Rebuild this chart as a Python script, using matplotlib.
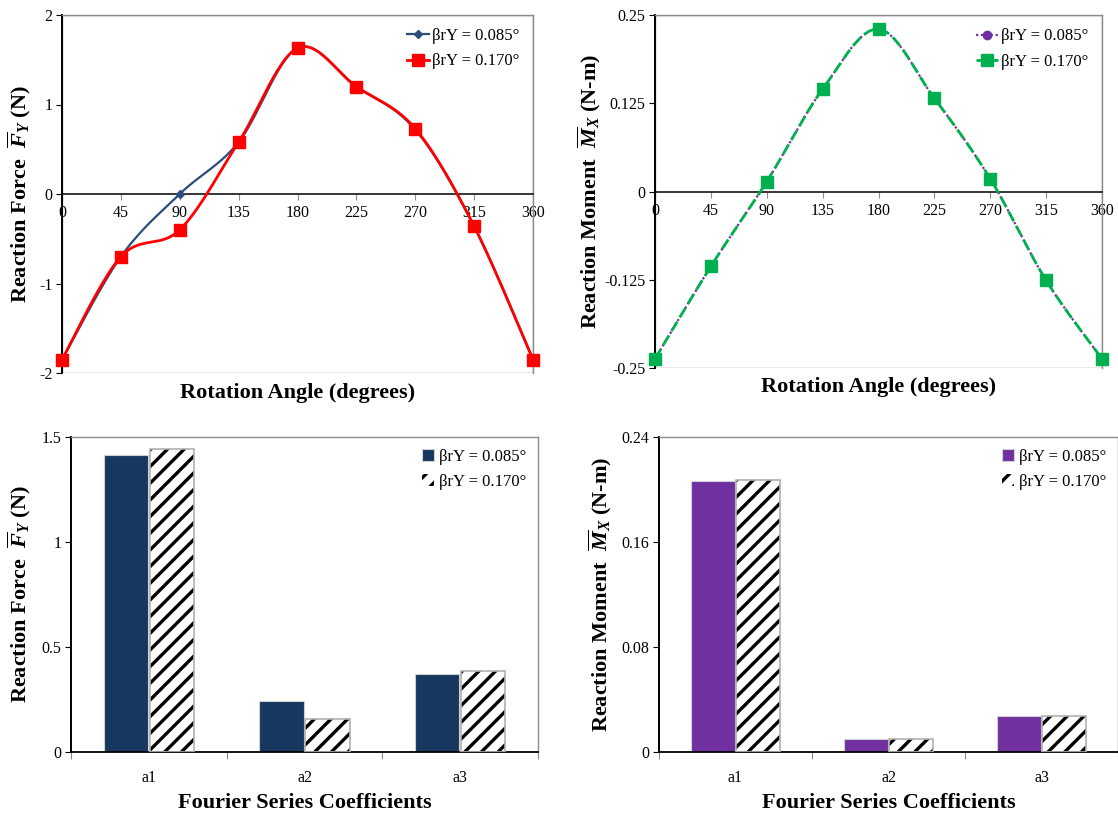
import numpy as np
import matplotlib
matplotlib.use("Agg")
import matplotlib.pyplot as plt
from matplotlib.patches import Rectangle

plt.rcParams["font.family"] = "Liberation Serif"
plt.rcParams["mathtext.fontset"] = "custom"
plt.rcParams["mathtext.rm"] = "Liberation Serif:bold"
plt.rcParams["mathtext.it"] = "Liberation Serif:italic:bold"
plt.rcParams["mathtext.bf"] = "Liberation Serif:bold"
plt.rcParams["hatch.linewidth"] = 2.4

# rotation angles (degrees)
angles = [0, 45, 90, 135, 180, 225, 270, 315, 360]

# reaction force Fy (N)
force_085 = [-1.85, -0.70, 0.00, 0.58, 1.63, 1.20, 0.72, -0.36, -1.85]
force_170 = [-1.85, -0.70, -0.40, 0.58, 1.63, 1.20, 0.73, -0.36, -1.85]

# reaction moment Mx (N-m)
moment_085 = [-0.237, -0.106, 0.014, 0.145, 0.230, 0.132, 0.018, -0.126, -0.237]
moment_170 = [-0.237, -0.106, 0.014, 0.145, 0.230, 0.132, 0.018, -0.126, -0.237]

# Fourier series coefficients
coeffs = ["a1", "a2", "a3"]
force_coef_085 = [1.413, 0.244, 0.370]
force_coef_170 = [1.443, 0.157, 0.387]
moment_coef_085 = [0.2067, 0.0099, 0.0272]
moment_coef_170 = [0.2072, 0.0099, 0.0277]

labels = ["βrY = 0.085°", "βrY = 0.170°"]

BORDER = "#8c8c8c"
TICK_FS = 11.5
LABEL_FS = 16
LEGEND_FS = 12


def smooth(x, y, steps=30):
    # Excel-style smoothed line: cubic Bezier through points (Catmull-Rom control points)
    x = np.asarray(x, float)
    y = np.asarray(y, float)
    px = np.concatenate([[x[0]], x, [x[-1]]])
    py = np.concatenate([[y[0]], y, [y[-1]]])
    xs, ys = [], []
    t = np.linspace(0, 1, steps)
    for i in range(1, len(px) - 2):
        p0 = np.array([px[i], py[i]])
        p3 = np.array([px[i + 1], py[i + 1]])
        c1 = p0 + (np.array([px[i + 1], py[i + 1]]) - np.array([px[i - 1], py[i - 1]])) / 6
        c2 = p3 - (np.array([px[i + 2], py[i + 2]]) - np.array([px[i], py[i]])) / 6
        b = ((1 - t) ** 3)[:, None] * p0 + (3 * (1 - t) ** 2 * t)[:, None] * c1 \
            + (3 * (1 - t) * t ** 2)[:, None] * c2 + (t ** 3)[:, None] * p3
        xs.extend(b[:, 0])
        ys.extend(b[:, 1])
    return np.array(xs), np.array(ys)


def style_line_axes(ax, ylim, yticks, yticklabels, ylabel):
    ax.set_xlim(0, 360)
    ax.set_ylim(*ylim)
    ax.set_xticks(angles)
    ax.set_yticks(yticks)
    ax.set_yticklabels(yticklabels)
    ax.spines["bottom"].set_position(("data", 0))
    ax.spines["bottom"].set_color("black")
    ax.spines["bottom"].set_linewidth(1.1)
    ax.spines["left"].set_color("black")
    ax.spines["left"].set_linewidth(1.4)
    for s in ["top", "right"]:
        ax.spines[s].set_color(BORDER)
        ax.spines[s].set_linewidth(1.0)
    ax.add_patch(Rectangle((0, 0), 1, 1, transform=ax.transAxes, fill=False,
                           edgecolor=BORDER, linewidth=1.0, zorder=0.5))
    ax.tick_params(axis="x", direction="out", length=4, width=0.8, pad=4,
                   labelsize=TICK_FS, color=BORDER)
    ax.tick_params(axis="y", direction="out", length=4, width=0.8, pad=3,
                   labelsize=TICK_FS)
    ax.text(0.5, -0.055, "Rotation Angle (degrees)", transform=ax.transAxes,
            ha="center", va="center", fontsize=LABEL_FS, fontweight="bold")
    ax.set_ylabel(ylabel, fontsize=LABEL_FS, fontweight="bold")


def style_bar_axes(ax, ymax, yticks, yticklabels, ylabel):
    ax.set_xlim(-0.5, 2.5)
    ax.set_ylim(0, ymax)
    ax.set_yticks(yticks)
    ax.set_yticklabels(yticklabels)
    ax.set_xticks([0, 1, 2])
    ax.set_xticklabels(coeffs)
    ax.set_xticks([-0.5, 0.5, 1.5, 2.5], minor=True)
    ax.tick_params(axis="x", which="major", length=0, pad=13, labelsize=TICK_FS)
    ax.tick_params(axis="x", which="minor", length=5, width=0.8, color=BORDER)
    ax.tick_params(axis="y", direction="out", length=4, width=0.8, pad=3,
                   labelsize=TICK_FS)
    ax.spines["bottom"].set_color("black")
    ax.spines["bottom"].set_linewidth(1.3)
    ax.spines["left"].set_color("black")
    ax.spines["left"].set_linewidth(1.4)
    for s in ["top", "right"]:
        ax.spines[s].set_color(BORDER)
        ax.spines[s].set_linewidth(1.0)
    ax.set_xlabel("Fourier Series Coefficients", fontsize=LABEL_FS,
                  fontweight="bold", labelpad=5)
    ax.set_ylabel(ylabel, fontsize=LABEL_FS, fontweight="bold")


def draw_bars(ax, v1, v2, color):
    x = np.arange(len(coeffs))
    w = 0.285
    ax.bar(x - w / 2 - 0.006, v1, w, color=color, edgecolor="#d0d0d0",
           linewidth=0.8, label=labels[0], zorder=2)
    ax.bar(x + w / 2 + 0.006, v2, w, facecolor="white", edgecolor="black",
           hatch="//", linewidth=0, label=labels[1], zorder=2)
    # light outline around the hatched bars
    ax.bar(x + w / 2 + 0.006, v2, w, fill=False, edgecolor="#b0b0b0",
           linewidth=1.2, zorder=3)


def add_legend(ax, bars=False):
    if bars:
        ax.legend(loc="upper right", frameon=False, fontsize=LEGEND_FS,
                  handlelength=0.7, handleheight=0.7, handletextpad=0.3,
                  borderaxespad=0.3, labelspacing=0.55)
    else:
        ax.legend(loc="upper right", frameon=False, fontsize=LEGEND_FS,
                  handlelength=1.3, handletextpad=0.2, borderaxespad=0.4,
                  labelspacing=0.55)


fig = plt.figure(figsize=(11.18, 8.15), dpi=100)

ax1 = fig.add_axes([62 / 1118, 1 - 373 / 815, 471 / 1118, 358 / 815])
ax2 = fig.add_axes([655 / 1118, 1 - 368 / 815, 447 / 1118, 353 / 815])
ax3 = fig.add_axes([71 / 1118, 1 - 752 / 815, 467 / 1118, 315 / 815])
ax4 = fig.add_axes([659 / 1118, 1 - 752 / 815, 459 / 1118, 315 / 815])

# reaction force vs angle
sx, sy = smooth(angles, force_085)
ax1.plot(sx, sy, color="#2a4d7a", lw=1.6, zorder=3)
ax1.plot(angles, force_085, ls="none", marker="D", ms=4.5, color="#2a4d7a", zorder=3)
sx, sy = smooth(angles, force_170)
ax1.plot(sx, sy, color="#ff0000", lw=2.0, zorder=4)
ax1.plot(angles, force_170, ls="none", marker="s", ms=8, color="#ff0000", zorder=4,
         clip_on=False)
ax1.plot([], [], color="#2a4d7a", lw=1.6, marker="D", ms=4.5, label=labels[0])
ax1.plot([], [], color="#ff0000", lw=2.0, marker="s", ms=8, label=labels[1])
style_line_axes(ax1, (-2, 2), [-2, -1, 0, 1, 2], ["-2", "-1", "0", "1", "2"],
                r"Reaction Force  $\overline{F}_Y$ (N)")
ax1.yaxis.set_label_coords(-0.062, 0.5)
add_legend(ax1)

# reaction moment vs angle
sx, sy = smooth(angles, moment_085)
ax2.plot(sx, sy, color="#7030a0", lw=1.6, ls=(0, (1, 1.2)), zorder=3)
ax2.plot(angles, moment_085, ls="none", marker="o", ms=6, color="#7030a0", zorder=3)
sx, sy = smooth(angles, moment_170)
ax2.plot(sx, sy, color="#00b050", lw=2.0, ls=(0, (4, 1.8)), zorder=4)
ax2.plot(angles, moment_170, ls="none", marker="s", ms=8, color="#00b050", zorder=4,
         clip_on=False)
ax2.plot([], [], color="#7030a0", lw=1.6, ls=(0, (1, 1.2)), marker="o", ms=6,
         label=labels[0])
ax2.plot([], [], color="#00b050", lw=2.0, ls=(0, (4, 1.8)), marker="s", ms=8,
         label=labels[1])
style_line_axes(ax2, (-0.25, 0.25), [-0.25, -0.125, 0, 0.125, 0.25],
                ["-0.25", "-0.125", "0", "0.125", "0.25"],
                r"Reaction Moment  $\overline{M}_X$ (N-m)")
ax2.yaxis.set_label_coords(-0.116, 0.5)
add_legend(ax2)

# force coefficients
draw_bars(ax3, force_coef_085, force_coef_170, "#17375e")
style_bar_axes(ax3, 1.5, [0, 0.5, 1, 1.5], ["0", "0.5", "1", "1.5"],
               r"Reaction Force  $\overline{F}_Y$ (N)")
ax3.yaxis.set_label_coords(-0.081, 0.5)
add_legend(ax3, bars=True)

# moment coefficients
draw_bars(ax4, moment_coef_085, moment_coef_170, "#7030a0")
style_bar_axes(ax4, 0.24, [0, 0.08, 0.16, 0.24], ["0", "0.08", "0.16", "0.24"],
               r"Reaction Moment  $\overline{M}_X$ (N-m)")
ax4.yaxis.set_label_coords(-0.098, 0.5)
add_legend(ax4, bars=True)

fig.savefig("out.png", dpi=100)
